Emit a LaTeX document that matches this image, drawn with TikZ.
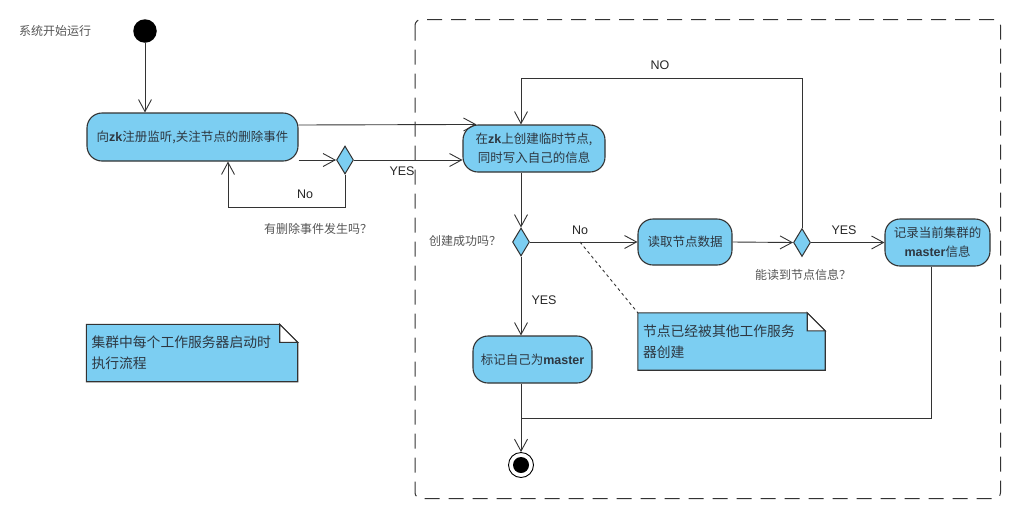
\documentclass[tikz,border=0pt]{standalone}
\usepackage{fontspec}
\setmainfont{Noto Sans CJK SC}
\newfontfamily\arialfont{Liberation Sans}
\usetikzlibrary{arrows.meta,backgrounds,calc,shapes.geometric}

\definecolor{actfill}{RGB}{124,206,242}
\definecolor{actline}{RGB}{51,51,51}
\definecolor{acttext}{RGB}{45,55,65}
\definecolor{hintgray}{RGB}{85,85,85}

\newcommand{\latbold}[1]{{\arialfont\bfseries #1}}
\newcommand{\drawmemo}[1]{%
  \begin{scope}[on background layer]
    \filldraw[draw=actline, line width=1.1pt, fill=actfill]
      (#1.south west) -- (#1.north west) -- ($(#1.north east)+(-18pt,0pt)$)
      -- ($(#1.north east)+(0pt,-18pt)$) -- (#1.south east) -- cycle;
    \filldraw[draw=actline, line width=1.1pt, fill=white]
      ($(#1.north east)+(-18pt,0pt)$) -- ($(#1.north east)+(-18pt,-18pt)$)
      -- ($(#1.north east)+(0pt,-18pt)$) -- cycle;
  \end{scope}}

\tikzset{
  act/.style={draw=actline, line width=1.1pt, fill=actfill, rounded corners=15pt,
    text=acttext, font=\fontsize{12.5}{19}\selectfont, align=center, inner sep=0pt},
  choice/.style={diamond, draw=actline, line width=1pt, fill=actfill, inner sep=0pt,
    minimum width=17pt, minimum height=28pt},
  flow/.style={draw=actline, line width=0.9pt, -{Straight Barb[length=12pt,width=13pt]}},
  plain/.style={draw=actline, line width=0.9pt},
  guard/.style={font=\arialfont\fontsize{12.5}{14}\selectfont, text=black!85},
  hint/.style={font=\fontsize{12}{14}\selectfont, text=hintgray},
  memo/.style={text=acttext, font=\fontsize{13.8}{21}\selectfont, align=left,
    inner xsep=5pt, inner ysep=0pt, minimum height=57pt},
  startdot/.style={circle, fill=black, minimum size=23.5pt, inner sep=0pt},
  stopdot/.style={circle, draw=black, line width=0.9pt, fill=white, minimum size=25pt,
    inner sep=0pt, path picture={\fill[black] (path picture bounding box.center) circle (8pt);}}
}

\begin{document}
\begin{tikzpicture}[x=1pt, y=-1pt]
  \useasboundingbox (0,0) rectangle (1011,507);

  \draw[actline, line width=1pt, dash pattern=on 15pt off 9pt, rounded corners=6pt]
    (415,19.5) rectangle (1000.5,498.5);

  \node[startdot] (init) at (145,31) {};
  \node[hint] (initlabel) at (55,31) {系统开始运行};

  \begin{scope}[every node/.style={act}]
    \node[minimum width=211pt, minimum height=48pt] (watch) at (192.5,137) {向\latbold{zk}注册监听,关注节点的删除事件};
    \node[minimum width=142pt, minimum height=47pt] (create) at (534,148.5) {在\latbold{zk}上创建临时节点,\\同时写入自己的信息};
    \node[minimum width=94pt, minimum height=46pt] (readdata) at (685,242) {读取节点数据};
    \node[minimum width=105pt, minimum height=47pt] (record) at (937.5,242.5) {记录当前集群的\\\latbold{master}信息};
    \node[minimum width=119pt, minimum height=47pt] (markself) at (532.5,359.5) {标记自己为\latbold{master}};
  \end{scope}

  \node[choice] (delq) at (345,160) {};
  \node[choice] (okq) at (521,242) {};
  \node[choice] (readq) at (802,242.5) {};
  \node[stopdot] (final) at (521,465) {};

  \node[memo, text width=201pt] (scopenote) at (192,353) {集群中每个工作服务器启动时\\执行流程};
  \node[memo, text width=177pt] (takennote) at (731.5,341.5) {节点已经被其他工作服务\\器创建};
  \drawmemo{scopenote}
  \drawmemo{takennote}

  \node[hint] (dellabel) at (318,229) {有删除事件发生吗？};
  \node[hint] (oklabel) at (465,241) {创建成功吗？};
  \node[hint] (readlabel) at (803,275) {能读到节点信息？};

  \node[guard] (delno) at (305,194) {No};
  \node[guard] (delyes) at (402,171) {YES};
  \node[guard] (readno) at (660,65) {NO};
  \node[guard] (okno) at (580,230) {No};
  \node[guard] (readyes) at (844,230) {YES};
  \node[guard] (okyes) at (544,300) {YES};

  \coordinate (noback) at (228,207.3);
  \coordinate (retry) at (521,78);
  \coordinate (merge) at (521,418);
  \coordinate (notehook) at (580,242);

  \draw[flow] (init) -- (init |- watch.north);
  \draw[flow] ([yshift=12pt]watch.east) -- ($(create.north west)+(14pt,0pt)$);
  \draw[flow] (delq.west -| watch.east) -- (delq.west);
  \draw[flow] (delq.south) |- (noback) -- (noback |- watch.south);
  \draw[flow] (delq.east) -- (delq.east -| create.west);
  \draw[flow] (create.south -| okq) -- (okq.north);
  \draw[flow] (okq.east) -- (readdata.west);
  \draw[flow] (readdata.east) -- (readq.west);
  \draw[flow] (readq.east) -- (record.west);
  \draw[flow] (readq.north) |- (retry) -- (retry |- create.north);
  \draw[flow] (okq.south) -- (okq.south |- markself.north);
  \draw[flow] (markself.south -| okq) -- (final.north);
  \draw[plain] ([xshift=-6.5pt]record.south) |- (merge);
  \draw[plain, dash pattern=on 3pt off 3pt] (notehook) -- (takennote.north west);
\end{tikzpicture}
\end{document}
